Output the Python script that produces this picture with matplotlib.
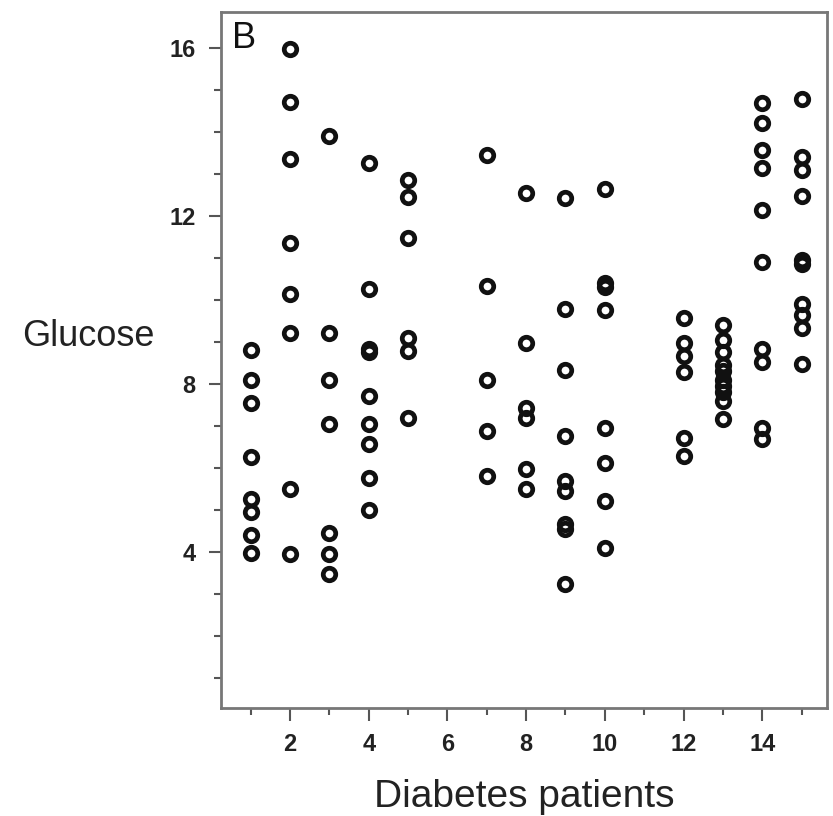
import numpy as np
import matplotlib
matplotlib.use('Agg')
from matplotlib import pyplot as plt

plt.rcParams['font.family'] = ['Liberation Sans', 'DejaVu Sans']

# glucose readings per patient
patients = [1, 2, 3, 4, 5, 7, 8, 9, 10, 12, 13, 14, 15]
glucose = [
    [8.8, 8.1, 7.55, 6.25, 5.25, 4.95, 4.4, 3.97],
    [15.98, 14.7, 13.35, 11.35, 10.15, 9.2, 5.5, 3.95],
    [13.9, 9.2, 8.1, 7.05, 4.45, 3.95, 3.47],
    [13.26, 10.25, 8.82, 8.76, 7.72, 7.05, 6.57, 5.76, 5.0],
    [12.85, 12.44, 11.47, 9.1, 8.79, 7.19],
    [13.45, 10.34, 8.08, 6.88, 5.81],
    [12.54, 8.98, 7.43, 7.19, 5.98, 5.5],
    [12.42, 9.77, 8.32, 6.76, 5.69, 5.45, 4.65, 4.55, 3.23],
    [12.63, 10.4, 10.3, 9.75, 6.95, 6.12, 5.21, 4.09],
    [9.56, 8.96, 8.67, 8.27, 6.72, 6.29],
    [9.4, 9.05, 8.75, 8.45, 8.3, 8.1, 7.95, 7.8, 7.6, 7.15],
    [14.69, 14.21, 13.57, 13.14, 12.13, 10.89, 8.84, 8.51, 6.95, 6.69],
    [14.78, 13.4, 13.09, 12.47, 10.95, 10.85, 9.91, 9.63, 9.34, 8.48],
]

fig = plt.figure(figsize=(8.33, 8.16), dpi=100)
ax = fig.add_axes([0.265, 0.132, 0.728, 0.853])

for p, vals in zip(patients, glucose):
    ax.plot([p] * len(vals), vals, 'o', ls='none', mfc='none', mec='#111111',
            ms=9, mew=3.4)

ax.set_xlim(0.24, 15.65)
ax.set_ylim(0.27, 16.85)
ax.set_xticks(range(2, 15, 2))
ax.set_xticks(range(1, 16, 2), minor=True)
ax.set_yticks([4, 8, 12, 16])
ax.set_yticks(range(1, 17), minor=True)

for s in ax.spines.values():
    s.set_color('#777777')
    s.set_linewidth(2)
ax.tick_params(which='both', color='#555555', width=1.5)
ax.tick_params(which='major', length=9, labelsize=17, pad=9)
ax.tick_params(which='minor', length=5)
for lbl in ax.get_xticklabels() + ax.get_yticklabels():
    lbl.set_fontweight('bold')
    lbl.set_color('#222222')

ax.set_xlabel('Diabetes patients', fontsize=28, labelpad=16, color='#222222')
ax.set_ylabel('Glucose', fontsize=26, rotation=0, color='#222222',
              ha='center', va='center')
ax.yaxis.set_label_coords(-0.218, 0.534)
ax.text(0.018, 0.988, 'B', transform=ax.transAxes, fontsize=26, va='top',
        ha='left', color='#111111')

fig.savefig('out.png', dpi=100)
